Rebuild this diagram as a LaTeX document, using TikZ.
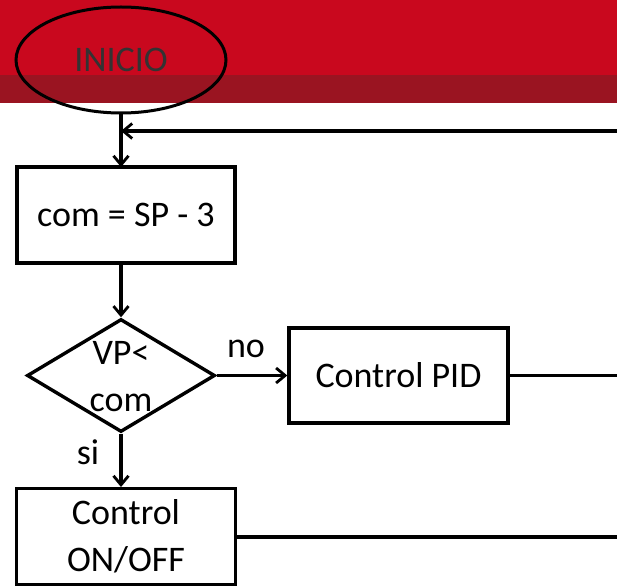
\documentclass[tikz,border=0pt]{standalone}
\usepackage{fontspec}
\setmainfont{Carlito}
\usetikzlibrary{shapes.geometric,arrows.meta}
\definecolor{bandred}{HTML}{C9081E}
\definecolor{banddark}{HTML}{9A1421}
\definecolor{inktext}{HTML}{333333}
\tikzset{
  every node/.style={font=\fontsize{36}{47}\selectfont},
  flow/.style={line width=3.4pt},
  arr/.style={flow,-{Straight Barb[length=9pt,width=15pt,line width=2.8pt]}},
  procbox/.style={draw,line width=3.4pt,rectangle,inner sep=0pt,align=center},
  lbl/.style={inner sep=0pt},
}
\begin{document}
\begin{tikzpicture}[x=1pt,y=-1pt]
\useasboundingbox (0,0) rectangle (617,585);
% header band
\fill[bandred] (0,0) rectangle (617,75);
\fill[banddark] (0,75) rectangle (617,103);
% nodes
\node[ellipse,draw,line width=3pt,minimum width=210pt,minimum height=106pt,inner sep=0pt,text=inktext] (ini) at (121,60) {INICIO};
\node[procbox,minimum width=218pt,minimum height=96pt] (com) at (126,215) {com = SP - 3};
\node[diamond,draw,line width=3.4pt,minimum width=188pt,minimum height=113pt,inner sep=0pt] (dec) at (121,375.5) {};
\node[lbl,align=center] (dtxt) at (121,377) {VP<\\com};
\node[procbox,minimum width=219pt,minimum height=95pt] (pid) at (398.5,375.5) {Control PID};
\node[procbox,minimum width=218.5pt,minimum height=96pt,anchor=north] (onoff) at (126,487) {Control\\ON/OFF};
\node[lbl] (no) at (246,349) {no};
\node[lbl] (si) at (88,452) {si};
% connector helper points
\coordinate (join) at (121,131);
\coordinate (fbR) at (617,131);
\coordinate (pidR) at (617,375.5);
\coordinate (onR) at (617,537);
\coordinate (comTop) at (121,167);
\coordinate (comBot) at (121,263);
\coordinate (onTop) at (121,487);
% connectors
\draw[arr] (ini.south) -- (comTop);
\draw[arr] (fbR) -- (join);
\draw[arr] (comBot) -- (dec.north);
\draw[arr] (dec.east) -- (pid.west);
\draw[arr] (dec.south) -- (onTop);
\draw[flow] (pid.east) -- (pidR);
\draw[flow] (onoff.east |- onR) -- (onR);
\end{tikzpicture}
\end{document}
